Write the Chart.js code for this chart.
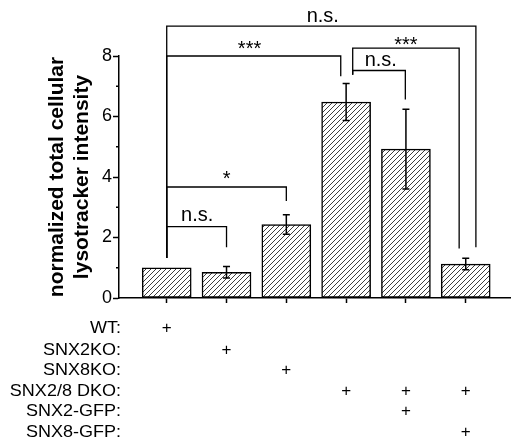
<!DOCTYPE html>
<html>
<head>
<meta charset="utf-8">
<script src="https://cdn.jsdelivr.net/npm/chart.js@4.4.1/dist/chart.umd.min.js"></script>
<style>
  html, body { margin: 0; padding: 0; background: #fff; }
  #wrap { width: 511px; height: 447px; }
</style>
</head>
<body>
<div id="wrap"><canvas id="c" width="511" height="447"></canvas></div>
<script>
// ---- data ----
const groups = ['WT', 'SNX2KO', 'SNX8KO', 'SNX2/8 DKO', 'SNX2-GFP', 'SNX8-GFP'];
const groupPositions = [1, 2, 3, 4, 5, 6];
const meanValues = [1.00, 0.85, 2.43, 6.48, 4.92, 1.12];
const errorValues = [0.00, 0.19, 0.32, 0.61, 1.32, 0.19];
const yTickValues = [0, 2, 4, 6, 8];
const rowLabels = ['WT:', 'SNX2KO:', 'SNX8KO:', 'SNX2/8 DKO:', 'SNX2-GFP:', 'SNX8-GFP:'];
const rowWT      = [1, 0, 0, 0, 0, 0];
const rowSNX2KO  = [0, 1, 0, 0, 0, 0];
const rowSNX8KO  = [0, 0, 1, 0, 0, 0];
const rowDKO     = [0, 0, 0, 1, 1, 1];
const rowSNX2GFP = [0, 0, 0, 0, 1, 0];
const rowSNX8GFP = [0, 0, 0, 0, 0, 1];
const conditionRows = [rowWT, rowSNX2KO, rowSNX8KO, rowDKO, rowSNX2GFP, rowSNX8GFP];
// significance brackets (data coordinates)
const sigLabels   = ['n.s.', '*', '***', 'n.s.', 'n.s.', '***'];
const sigX1       = [1, 1, 1, 1, 4.11, 4.11];
const sigX2       = [2, 3.0, 3.91, 6.17, 4.99, 5.89];
const sigTop      = [2.36, 3.67, 8.0, 8.99, 7.52, 8.26];
const sigLeftEnd  = [1.32, 1.32, 1.32, 1.32, 7.38, 7.38];
const sigRightEnd = [1.68, 3.21, 7.33, 1.68, 6.56, 1.64];
const sigLabelX   = [1.51, 2.0, 2.385, 3.61, 4.58, 5.0];
const sigLabelY   = [2.54, 3.72, 8.04, 9.14, 7.66, 8.17];

// ---- hatch pattern ----
function makeHatch() {
  const t = document.createElement('canvas');
  t.width = 5; t.height = 5;
  const g = t.getContext('2d');
  g.fillStyle = '#ffffff';
  g.fillRect(0, 0, 5, 5);
  g.strokeStyle = '#333333';
  g.lineWidth = 0.95;
  g.beginPath();
  g.moveTo(-1, 6); g.lineTo(6, -1);
  g.moveTo(-1, 1); g.lineTo(1, -1);
  g.moveTo(4, 6); g.lineTo(6, 4);
  g.stroke();
  return g.createPattern(t, 'repeat');
}
const ctx0 = document.getElementById('c').getContext('2d');
const hatch = makeHatch();

const FONT = '"Liberation Sans", Arial, Helvetica, sans-serif';

const extrasPlugin = {
  id: 'extras',
  afterDatasetsDraw(chart) {
    const ctx = chart.ctx;
    const xs = chart.scales.x, ys = chart.scales.y;
    ctx.save();
    ctx.strokeStyle = '#000';
    ctx.fillStyle = '#000';
    ctx.lineWidth = 1.5;
    // error bars
    groupPositions.forEach((p, i) => {
      if (!errorValues[i]) return;
      const x = xs.getPixelForValue(p);
      const yt = ys.getPixelForValue(meanValues[i] + errorValues[i]);
      const yb = ys.getPixelForValue(meanValues[i] - errorValues[i]);
      ctx.beginPath();
      ctx.moveTo(x, yt); ctx.lineTo(x, yb);
      ctx.moveTo(x - 3.5, yt); ctx.lineTo(x + 3.5, yt);
      ctx.moveTo(x - 3.5, yb); ctx.lineTo(x + 3.5, yb);
      ctx.stroke();
    });
    // brackets
    ctx.lineWidth = 1.3;
    sigLabels.forEach((lab, i) => {
      const x1 = xs.getPixelForValue(sigX1[i]);
      const x2 = xs.getPixelForValue(sigX2[i]);
      const yt = ys.getPixelForValue(sigTop[i]);
      const y1 = ys.getPixelForValue(sigLeftEnd[i]);
      const y2 = ys.getPixelForValue(sigRightEnd[i]);
      ctx.beginPath();
      ctx.moveTo(x1, y1); ctx.lineTo(x1, yt); ctx.lineTo(x2, yt); ctx.lineTo(x2, y2);
      ctx.stroke();
      ctx.font = '20px ' + FONT;
      ctx.textAlign = 'center';
      ctx.textBaseline = 'alphabetic';
      ctx.fillText(lab, xs.getPixelForValue(sigLabelX[i]), ys.getPixelForValue(sigLabelY[i]));
    });
    // minor y ticks
    ctx.lineWidth = 1.5;
    [1, 3, 5, 7].forEach(v => {
      const y = ys.getPixelForValue(v);
      ctx.beginPath();
      ctx.moveTo(xs.left, y); ctx.lineTo(xs.left - 3, y);
      ctx.stroke();
    });
    // condition table
    const baselines = [332.5, 355, 375, 395.5, 416, 436.5];
    ctx.font = '17px ' + FONT;
    ctx.textBaseline = 'alphabetic';
    rowLabels.forEach((lab, r) => {
      ctx.save();
      ctx.translate(121, baselines[r]);
      ctx.scale(1.06, 1);
      ctx.textAlign = 'right';
      ctx.fillText(lab, 0, 0);
      ctx.restore();
      ctx.textAlign = 'center';
      conditionRows[r].forEach((on, c) => {
        if (on) ctx.fillText('+', xs.getPixelForValue(groupPositions[c]), baselines[r]);
      });
    });
    ctx.restore();
  }
};

new Chart(ctx0, {
  type: 'bar',
  data: {
    datasets: [{
      data: groupPositions.map((p, i) => ({ x: p, y: meanValues[i] })),
      backgroundColor: hatch,
      borderColor: '#000',
      borderWidth: 1.5,
      borderSkipped: false,
      barThickness: 49
    }]
  },
  options: {
    responsive: false,
    animation: false,
    devicePixelRatio: 1,
    layout: { padding: { top: 56, right: 0, left: 0, bottom: 0 } },
    plugins: { legend: { display: false }, tooltip: { enabled: false } },
    scales: {
      x: {
        type: 'linear',
        min: 0.202,
        max: 6.757,
        offset: false,
        afterBuildTicks: s => { s.ticks = groupPositions.map(v => ({ value: v })); },
        afterFit: s => { s.height = 149; },
        ticks: { display: false },
        grid: { offset: false, drawOnChartArea: false, drawTicks: true, tickLength: 5, tickWidth: 1.5, tickColor: '#000' },
        border: { display: true, color: '#000', width: 1.5 }
      },
      y: {
        min: 0,
        max: 8,
        afterBuildTicks: s => { s.ticks = [0,1,2,3,4,5,6,7,8].map(v => ({ value: v })); },
        afterFit: s => { s.width = 119; },
        ticks: {
          color: '#000',
          padding: 1,
          font: { family: FONT, size: 18 },
          callback: v => (yTickValues.includes(v) ? String(v) : '')
        },
        grid: {
          drawOnChartArea: false, drawTicks: true, tickLength: 6, tickWidth: 1.5,
          tickColor: c => (c.tick && c.tick.value % 2 === 0 ? '#000' : 'rgba(0,0,0,0)')
        },
        border: { display: true, color: '#000', width: 1.5 },
        title: {
          display: true,
          text: ['normalized total cellular', 'lysotracker intensity'],
          color: '#000',
          font: { family: FONT, size: 21, weight: 'bold', lineHeight: 25 / 21 },
          padding: { top: 45, bottom: 0 }
        }
      }
    }
  },
  plugins: [extrasPlugin]
});
</script>
</body>
</html>
